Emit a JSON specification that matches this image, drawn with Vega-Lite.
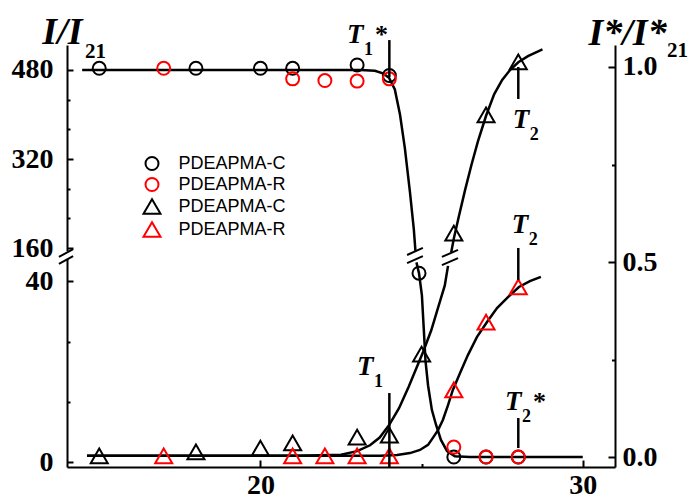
{
  "$schema": "https://vega.github.io/schema/vega-lite/v6.json",
  "width": 548,
  "height": 422,
  "autosize": {"type": "none"},
  "padding": {"left": 67, "top": 45, "right": 74, "bottom": 33},
  "background": "white",
  "config": {
    "view": {"stroke": null},
    "axis": {"grid": false, "domainColor": "black", "domainWidth": 2, "tickColor": "black", "tickWidth": 2, "labelFont": "Liberation Serif", "labelFontWeight": "bold", "labelFontSize": 28, "labelColor": "black", "titleColor": "black", "labelOverlap": false, "labelBound": false, "labelFlush": false}
  },
  "datasets": {
    "circ": [
      {"x": 15, "I": 483, "series": "cC"}, {"x": 18, "I": 483, "series": "cC"}, {"x": 20, "I": 483, "series": "cC"}, {"x": 21, "I": 483, "series": "cC"}, {"x": 23, "I": 489, "series": "cC"}, {"x": 24, "I": 470, "series": "cC"}, {"x": 24.92, "I": 41.8, "series": "cC"}, {"x": 26, "I": 1.1, "series": "cC"}, {"x": 27, "I": 1.1, "series": "cC"}, {"x": 28, "I": 1.1, "series": "cC"},
      {"x": 17, "I": 483, "series": "cR"}, {"x": 21, "I": 464, "series": "cR"}, {"x": 22, "I": 461, "series": "cR"}, {"x": 23, "I": 460, "series": "cR"}, {"x": 24, "I": 464, "series": "cR"}, {"x": 26, "I": 3.3, "series": "cR"}, {"x": 27, "I": 1.1, "series": "cR"}, {"x": 28, "I": 1.1, "series": "cR"}
    ],
    "tri": [
      {"x": 15, "R": 0.003, "series": "tC"}, {"x": 18, "R": 0.013, "series": "tC"}, {"x": 20, "R": 0.023, "series": "tC"}, {"x": 21, "R": 0.036, "series": "tC"}, {"x": 23, "R": 0.051, "series": "tC"}, {"x": 24, "R": 0.056, "series": "tC"}, {"x": 25, "R": 0.264, "series": "tC"}, {"x": 26, "R": 0.574, "series": "tC"}, {"x": 27, "R": 0.877, "series": "tC"}, {"x": 28, "R": 1.013, "series": "tC"},
      {"x": 17, "R": 0.003, "series": "tR"}, {"x": 21, "R": 0.003, "series": "tR"}, {"x": 22, "R": 0.003, "series": "tR"}, {"x": 23, "R": 0.003, "series": "tR"}, {"x": 24, "R": 0.003, "series": "tR"}, {"x": 26, "R": 0.172, "series": "tR"}, {"x": 27, "R": 0.346, "series": "tR"}, {"x": 28, "R": 0.436, "series": "tR"}
    ],
    "ccurve": [
      {"x": 14.47, "I": 480, "seg": "a"}, {"x": 21.2, "I": 480, "seg": "a"}, {"x": 23.1, "I": 480, "seg": "a"}, {"x": 23.55, "I": 478.5, "seg": "a"}, {"x": 23.8, "I": 474, "seg": "a"}, {"x": 23.99, "I": 466, "seg": "a"}, {"x": 24.17, "I": 445, "seg": "a"}, {"x": 24.33, "I": 400, "seg": "a"}, {"x": 24.48, "I": 340, "seg": "a"}, {"x": 24.64, "I": 260, "seg": "a"}, {"x": 24.76, "I": 193, "seg": "a"}, {"x": 24.81, "I": 154, "seg": "a"},
      {"x": 24.84, "I": 44.2, "seg": "b"}, {"x": 24.92, "I": 41.8, "seg": "b"}, {"x": 25.01, "I": 36.9, "seg": "b"}, {"x": 25.07, "I": 29.2, "seg": "b"}, {"x": 25.12, "I": 22.5, "seg": "b"}, {"x": 25.2, "I": 17, "seg": "b"}, {"x": 25.32, "I": 11.5, "seg": "b"}, {"x": 25.45, "I": 8.2, "seg": "b"}, {"x": 25.6, "I": 4.9, "seg": "b"}, {"x": 25.79, "I": 2.4, "seg": "b"}, {"x": 26.03, "I": 1.3, "seg": "b"}, {"x": 26.5, "I": 1.1, "seg": "b"}, {"x": 30, "I": 1.1, "seg": "b"}
    ],
    "tcurve": [
      {"x": 14.62, "R": 0.003, "seg": "k1"}, {"x": 21.2, "R": 0.003, "seg": "k1"}, {"x": 22.5, "R": 0.006, "seg": "k1"}, {"x": 23.0, "R": 0.015, "seg": "k1"}, {"x": 23.4, "R": 0.03, "seg": "k1"}, {"x": 23.7, "R": 0.05, "seg": "k1"}, {"x": 24.0, "R": 0.083, "seg": "k1"}, {"x": 24.3, "R": 0.125, "seg": "k1"}, {"x": 24.6, "R": 0.18, "seg": "k1"}, {"x": 24.85, "R": 0.23, "seg": "k1"}, {"x": 25.05, "R": 0.27, "seg": "k1"}, {"x": 25.3, "R": 0.325, "seg": "k1"}, {"x": 25.5, "R": 0.38, "seg": "k1"}, {"x": 25.72, "R": 0.44, "seg": "k1"}, {"x": 25.82, "R": 0.49, "seg": "k1"},
      {"x": 25.92, "R": 0.525, "seg": "k2"}, {"x": 26.0, "R": 0.56, "seg": "k2"}, {"x": 26.15, "R": 0.615, "seg": "k2"}, {"x": 26.35, "R": 0.685, "seg": "k2"}, {"x": 26.55, "R": 0.75, "seg": "k2"}, {"x": 26.75, "R": 0.81, "seg": "k2"}, {"x": 27.0, "R": 0.875, "seg": "k2"}, {"x": 27.25, "R": 0.93, "seg": "k2"}, {"x": 27.5, "R": 0.967, "seg": "k2"}, {"x": 27.75, "R": 0.993, "seg": "k2"}, {"x": 28.0, "R": 1.012, "seg": "k2"}, {"x": 28.3, "R": 1.028, "seg": "k2"}, {"x": 28.75, "R": 1.045, "seg": "k2"},
      {"x": 14.62, "R": 0.003, "seg": "r"}, {"x": 23.71, "R": 0.003, "seg": "r"}, {"x": 24.24, "R": 0.005, "seg": "r"}, {"x": 24.64, "R": 0.01, "seg": "r"}, {"x": 24.95, "R": 0.018, "seg": "r"}, {"x": 25.2, "R": 0.031, "seg": "r"}, {"x": 25.35, "R": 0.049, "seg": "r"}, {"x": 25.51, "R": 0.069, "seg": "r"}, {"x": 25.66, "R": 0.095, "seg": "r"}, {"x": 25.82, "R": 0.133, "seg": "r"}, {"x": 25.97, "R": 0.172, "seg": "r"}, {"x": 26.19, "R": 0.215, "seg": "r"}, {"x": 26.44, "R": 0.262, "seg": "r"}, {"x": 26.72, "R": 0.308, "seg": "r"}, {"x": 27.03, "R": 0.346, "seg": "r"}, {"x": 27.34, "R": 0.382, "seg": "r"}, {"x": 27.68, "R": 0.41, "seg": "r"}, {"x": 28.02, "R": 0.436, "seg": "r"}, {"x": 28.36, "R": 0.451, "seg": "r"}, {"x": 28.7, "R": 0.462, "seg": "r"}
    ],
    "vlines": [
      {"x": 24, "R": 1.069, "R2": 0.974}, {"x": 28, "R": 1.0, "R2": 0.918}, {"x": 28, "R": 0.536, "R2": 0.454}, {"x": 24, "R": 0.164, "R2": -0.026}, {"x": 28, "R": 0.1, "R2": 0.023}
    ],
    "slashes": [
      {"x": 13.75, "x2": 14.19, "R": 0.513, "R2": 0.533}, {"x": 13.75, "x2": 14.19, "R": 0.495, "R2": 0.515},
      {"x": 24.55, "x2": 25.04, "R": 0.518, "R2": 0.536}, {"x": 24.55, "x2": 25.04, "R": 0.497, "R2": 0.515},
      {"x": 25.63, "x2": 26.13, "R": 0.513, "R2": 0.531}, {"x": 25.63, "x2": 26.13, "R": 0.492, "R2": 0.51}
    ],
    "cover": [{"x": 14, "R": 0.528, "R2": 0.508}],
    "tlabels": [
      {"x": 22.685, "R": 1.0615, "t": "T", "sub": "1", "star": "*"},
      {"x": 27.83, "R": 0.8436, "t": "T", "sub": "2", "star": ""},
      {"x": 27.8, "R": 0.574, "t": "T", "sub": "2", "star": ""},
      {"x": 23.0, "R": 0.21, "t": "T", "sub": "1", "star": ""},
      {"x": 27.585, "R": 0.1205, "t": "T", "sub": "2", "star": "*"}
    ],
    "subs": [
      {"x": 14.558, "R": 1.023, "txt": "21"},
      {"x": 32.61, "R": 1.026, "txt": "21"}
    ]
  },
  "layer": [
    {
      "layer": [
        {
          "data": {"name": "ccurve"},
          "mark": {"type": "line", "color": "black", "strokeWidth": 2.5},
          "encoding": {
            "x": {"field": "x", "type": "quantitative", "scale": {"domain": [14, 31], "nice": false, "zero": false},
              "axis": {"orient": "bottom", "values": [20, 25, 30], "format": "d", "labelExpr": "datum.value == 25 ? '' : datum.label", "tickSize": -7, "labelPadding": 11, "title": null,
                "encoding": {"ticks": {"y2": {"value": {"expr": "datum.value == 25 ? -3.5 : -7"}}}}}},
            "y": {"field": "I", "type": "quantitative",
              "scale": {"domain": [-1.1, 45.5, 146.7, 524.8], "range": [422, 211.5, 210.5, 0], "nice": false, "zero": false},
              "axis": {"orient": "left", "values": [0, 13.333, 26.667, 40, 160, 213.333, 266.667, 320, 373.333, 426.667, 480], "format": "d",
                "labelExpr": "indexof([0,40,160,320,480], datum.value) >= 0 ? datum.label : ''",
                "tickSize": -6, "labelPadding": 20,
                "title": "I/I", "titleAngle": 0, "titleAlign": "right", "titleBaseline": "alphabetic", "titleX": 15, "titleY": -2,
                "titleFont": "Liberation Serif", "titleFontSize": 38, "titleFontWeight": "bold", "titleFontStyle": "italic",
                "encoding": {"ticks": {"x2": {"value": {"expr": "indexof([0,40,160,320,480], datum.value) >= 0 ? 6 : 3"}}}}}},
            "detail": {"field": "seg", "type": "nominal"}
          }
        },
        {
          "data": {"name": "circ"},
          "mark": {"type": "point", "filled": false, "strokeWidth": 2, "size": 169, "opacity": 1},
          "encoding": {
            "x": {"field": "x", "type": "quantitative"},
            "y": {"field": "I", "type": "quantitative"},
            "color": {"field": "series", "type": "nominal",
              "scale": {"domain": ["cC", "cR", "tC", "tR"], "range": ["#000000", "#ff0000", "#000000", "#ff0000"]},
              "legend": {"orient": "none", "legendX": 75.5, "legendY": 109, "title": null,
                "labelExpr": "datum.value == 'cC' || datum.value == 'tC' ? 'PDEAPMA-C' : 'PDEAPMA-R'",
                "labelFont": "Liberation Sans", "labelFontSize": 18, "labelColor": "black",
                "symbolSize": 289, "symbolStrokeWidth": 2, "rowPadding": 0, "labelOffset": 17, "padding": 0,
                "encoding": {"symbols": {"size": {"value": {"expr": "datum.value == 'cC' || datum.value == 'cR' ? 169 : 289"}}}}}},
            "shape": {"field": "series", "type": "nominal",
              "scale": {"domain": ["cC", "cR", "tC", "tR"], "range": ["circle", "circle", "triangle-up", "triangle-up"]}}
          }
        }
      ]
    },
    {
      "layer": [
        {
          "data": {"name": "tcurve"},
          "mark": {"type": "line", "color": "black", "strokeWidth": 2.5},
          "encoding": {
            "x": {"field": "x", "type": "quantitative"},
            "y": {"field": "R", "type": "quantitative",
              "scale": {"domain": [-0.02564, 1.05641], "nice": false, "zero": false},
              "axis": {"orient": "right", "values": [0, 0.25, 0.5, 0.75, 1], "format": ".1f",
                "labelExpr": "datum.value == 0.25 || datum.value == 0.75 ? '' : datum.label",
                "tickSize": -7, "labelPadding": 14,
                "title": "I*/I*", "titleAngle": 0, "titleAlign": "left", "titleBaseline": "alphabetic", "titleX": -27, "titleY": -1,
                "titleFont": "Liberation Serif", "titleFontSize": 38, "titleFontWeight": "bold", "titleFontStyle": "italic",
                "encoding": {"ticks": {"x2": {"value": {"expr": "datum.value == 0.25 || datum.value == 0.75 ? -3.5 : -7"}}}}}},
            "detail": {"field": "seg", "type": "nominal"}
          }
        },
        {
          "data": {"name": "tri"},
          "mark": {"type": "point", "filled": false, "strokeWidth": 2, "size": 289, "opacity": 1},
          "encoding": {
            "x": {"field": "x", "type": "quantitative"},
            "y": {"field": "R", "type": "quantitative"},
            "color": {"field": "series", "type": "nominal"},
            "shape": {"field": "series", "type": "nominal"}
          }
        },
        {
          "data": {"name": "vlines"},
          "mark": {"type": "rule", "color": "black", "strokeWidth": 2.5},
          "encoding": {
            "x": {"field": "x", "type": "quantitative"},
            "y": {"field": "R", "type": "quantitative"},
            "y2": {"field": "R2"}
          }
        },
        {
          "data": {"name": "cover"},
          "mark": {"type": "rule", "color": "white", "strokeWidth": 5},
          "encoding": {
            "x": {"field": "x", "type": "quantitative"},
            "y": {"field": "R", "type": "quantitative"},
            "y2": {"field": "R2"}
          }
        },
        {
          "data": {"name": "slashes"},
          "mark": {"type": "rule", "color": "black", "strokeWidth": 2},
          "encoding": {
            "x": {"field": "x", "type": "quantitative"},
            "x2": {"field": "x2"},
            "y": {"field": "R", "type": "quantitative"},
            "y2": {"field": "R2"}
          }
        },
        {
          "data": {"name": "tlabels"},
          "mark": {"type": "text", "align": "left", "baseline": "alphabetic", "font": "Liberation Serif", "fontSize": 27, "fontWeight": "bold", "fontStyle": "italic", "color": "black"},
          "encoding": {
            "x": {"field": "x", "type": "quantitative"},
            "y": {"field": "R", "type": "quantitative"},
            "text": {"field": "t"}
          }
        },
        {
          "data": {"name": "tlabels"},
          "mark": {"type": "text", "align": "left", "baseline": "alphabetic", "font": "Liberation Serif", "fontSize": 18, "fontWeight": "bold", "dx": 17, "dy": 12, "color": "black"},
          "encoding": {
            "x": {"field": "x", "type": "quantitative"},
            "y": {"field": "R", "type": "quantitative"},
            "text": {"field": "sub"}
          }
        },
        {
          "data": {"name": "tlabels"},
          "mark": {"type": "text", "align": "left", "baseline": "alphabetic", "font": "Liberation Serif", "fontSize": 26, "fontWeight": "bold", "dx": 28, "dy": 0, "color": "black"},
          "encoding": {
            "x": {"field": "x", "type": "quantitative"},
            "y": {"field": "R", "type": "quantitative"},
            "text": {"field": "star"}
          }
        },
        {
          "data": {"name": "subs"},
          "mark": {"type": "text", "align": "left", "baseline": "alphabetic", "font": "Liberation Serif", "fontSize": 21, "fontWeight": "bold", "color": "black"},
          "encoding": {
            "x": {"field": "x", "type": "quantitative"},
            "y": {"field": "R", "type": "quantitative"},
            "text": {"field": "txt"}
          }
        }
      ]
    }
  ],
  "resolve": {"scale": {"y": "independent"}}
}
